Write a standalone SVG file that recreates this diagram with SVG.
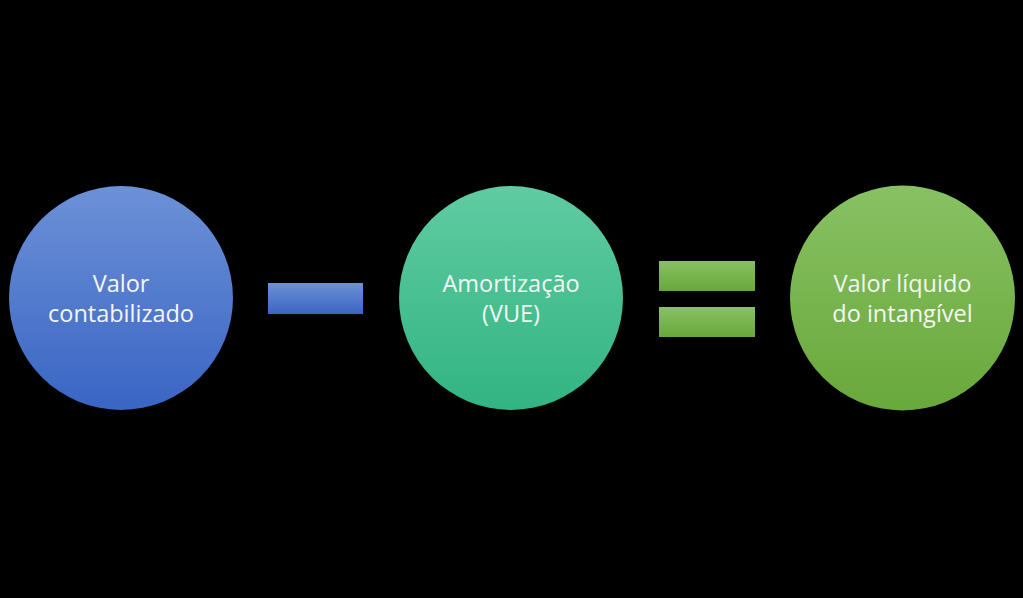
<svg xmlns="http://www.w3.org/2000/svg" width="1023" height="598" viewBox="0 0 1023 598">
<defs>
<linearGradient id="gBlue" x1="0" y1="0" x2="0" y2="1"><stop offset="0" stop-color="#6d91d8"/><stop offset="1" stop-color="#3965c3"/></linearGradient>
<linearGradient id="gTeal" x1="0" y1="0" x2="0" y2="1"><stop offset="0" stop-color="#60cba2"/><stop offset="1" stop-color="#32b482"/></linearGradient>
<linearGradient id="gGreen" x1="0" y1="0" x2="0" y2="1"><stop offset="0" stop-color="#88c163"/><stop offset="1" stop-color="#69a83b"/></linearGradient>
<style>
.t{font-family:"Open Sans","Liberation Sans",sans-serif;font-size:23.5px;fill:#f4f7f2;text-anchor:middle}
</style>
</defs>
<rect width="1023" height="598" fill="#000"/>
<g id="node1">
<circle cx="121" cy="298" r="112" fill="url(#gBlue)"/>
<text class="t" x="121" y="292">Valor</text>
<text class="t" x="121" y="322">contabilizado</text>
</g>
<g id="minus">
<rect x="268" y="283" width="95" height="31" fill="url(#gBlue)"/>
</g>
<g id="node2">
<circle cx="511" cy="298" r="112" fill="url(#gTeal)"/>
<text class="t" x="511" y="292">Amortização</text>
<text class="t" x="511" y="322">(VUE)</text>
</g>
<g id="equals">
<rect x="659" y="261" width="96" height="30" fill="url(#gGreen)"/>
<rect x="659" y="307" width="96" height="30" fill="url(#gGreen)"/>
</g>
<g id="node3">
<circle cx="902.5" cy="298" r="112.5" fill="url(#gGreen)"/>
<text class="t" x="902.5" y="292">Valor líquido</text>
<text class="t" x="902.5" y="322">do intangível</text>
</g>
<g id="connectors"/>
</svg>
